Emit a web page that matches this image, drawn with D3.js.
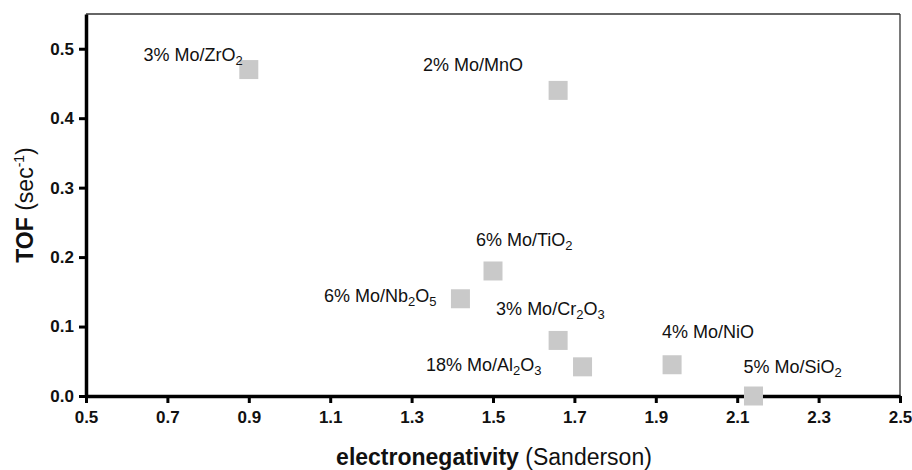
<!DOCTYPE html>
<html lang="en">
<head>
<meta charset="UTF-8">
<title>TOF vs electronegativity</title>
<script src="https://d3js.org/d3.v7.min.js"></script>
<style>
    body { margin: 0; background: #fff; }
    svg text { font-family: "Liberation Sans", Arial, sans-serif; fill: #111; }
    .lbl { font-size: 18px; }
</style>
</head>
<body>
<svg width="912" height="470"></svg>
<script>
    // catalysts: loading + support oxide
    const loadings = ["3%", "2%", "6%", "6%", "3%", "18%", "4%", "5%"];
    const supports = ["ZrO2", "MnO", "TiO2", "Nb2O5", "Cr2O3", "Al2O3", "NiO", "SiO2"];
    const electroneg = [0.90, 1.66, 1.50, 1.42, 1.66, 1.72, 1.94, 2.14];
    const tof = [0.47, 0.44, 0.18, 0.14, 0.08, 0.042, 0.045, 0.0];

    const xTicks = [0.5, 0.7, 0.9, 1.1, 1.3, 1.5, 1.7, 1.9, 2.1, 2.3, 2.5];
    const yTicks = [0.0, 0.1, 0.2, 0.3, 0.4, 0.5];

    // where each label sits relative to its marker
    const labelPlace = {
        ZrO2:  {anchor: "end",   dx: -6,  dy: -9},
        MnO:   {anchor: "end",   dx: -35, dy: -19},
        TiO2:  {anchor: "start", dx: -17, dy: -25},
        Nb2O5: {anchor: "end",   dx: -24, dy: 3},
        Cr2O3: {anchor: "start", dx: -62, dy: -25},
        Al2O3: {anchor: "end",   dx: -41, dy: 4},
        NiO:   {anchor: "start", dx: -10, dy: -27},
        SiO2:  {anchor: "start", dx: -10, dy: -23}
    };

    const svg = d3.select("svg");
    const mLeft = 86, mRight = 900, mTop = 14, mBottom = 396;

    const x = d3.scaleLinear().domain([0.5, 2.5]).range([mLeft, mRight]);
    const y = d3.scaleLinear().domain([0, 0.55]).range([mBottom, mTop]);

    // thin frame on top/right
    svg.append("line").attr("x1", mLeft).attr("x2", mRight).attr("y1", mTop).attr("y2", mTop)
        .attr("stroke", "#333").attr("stroke-width", 1.3);
    svg.append("line").attr("x1", mRight).attr("x2", mRight).attr("y1", mTop).attr("y2", mBottom)
        .attr("stroke", "#333").attr("stroke-width", 1.3);

    const xAxis = svg.append("g").attr("transform", `translate(0,${mBottom})`)
        .call(d3.axisBottom(x).tickValues(xTicks).tickFormat(d3.format(".1f"))
            .tickSize(7).tickSizeOuter(0).tickPadding(8));
    const yAxis = svg.append("g").attr("transform", `translate(${mLeft},0)`)
        .call(d3.axisLeft(y).tickValues(yTicks).tickFormat(d3.format(".1f"))
            .tickSize(7).tickSizeOuter(0).tickPadding(5));

    [xAxis, yAxis].forEach(function (g) {
        g.select(".domain").attr("stroke", "#000").attr("stroke-width", 3.5);
        g.selectAll(".tick line").attr("stroke", "#000").attr("stroke-width", 3);
        g.attr("font-family", null).attr("font-size", null);
        g.selectAll(".tick text")
            .style("font-size", "17px")
            .style("font-weight", "bold");
    });

    // markers
    const pts = supports.map(function (s, i) {
        return {load: loadings[i], sup: s, ex: electroneg[i], t: tof[i]};
    });
    const sq = 19;
    svg.append("g").selectAll("rect")
        .data(pts)
        .enter()
        .append("rect")
        .attr("x", d => x(d.ex) - sq / 2)
        .attr("y", d => y(d.t) - sq / 2)
        .attr("width", sq)
        .attr("height", sq)
        .attr("fill", "#c9c9c9");

    // labels with subscripted digits in the formula
    const lbls = svg.append("g").selectAll("text")
        .data(pts)
        .enter()
        .append("text")
        .attr("class", "lbl")
        .attr("x", d => x(d.ex) + labelPlace[d.sup].dx)
        .attr("y", d => y(d.t) + labelPlace[d.sup].dy)
        .attr("text-anchor", d => labelPlace[d.sup].anchor);

    lbls.each(function (d) {
        const t = d3.select(this);
        t.append("tspan").text(d.load + " Mo/");
        const parts = d.sup.match(/[A-Za-z]+|\d+/g);
        let sub = false;
        parts.forEach(function (p) {
            const isNum = /^\d+$/.test(p);
            const ts = t.append("tspan").text(p);
            if (isNum && !sub) { ts.attr("dy", 4).attr("font-size", 13); sub = true; }
            else if (isNum) { ts.attr("font-size", 13); }
            else if (sub) { ts.attr("dy", -4); sub = false; }
        });
    });

    // axis titles
    const xt = svg.append("text")
        .attr("x", 494)
        .attr("y", 465)
        .attr("text-anchor", "middle")
        .attr("font-size", 23);
    xt.append("tspan").attr("font-weight", "bold").text("electronegativity");
    xt.append("tspan").text(" (Sanderson)");

    const yt = svg.append("text")
        .attr("transform", `translate(33,${(mTop + mBottom) / 2}) rotate(-90)`)
        .attr("text-anchor", "middle")
        .attr("font-size", 23);
    yt.append("tspan").attr("font-weight", "bold").text("TOF");
    yt.append("tspan").text(" (sec");
    yt.append("tspan").attr("dy", -9).attr("font-size", 14).text("-1");
    yt.append("tspan").attr("dy", 9).text(")");
</script>
</body>
</html>
